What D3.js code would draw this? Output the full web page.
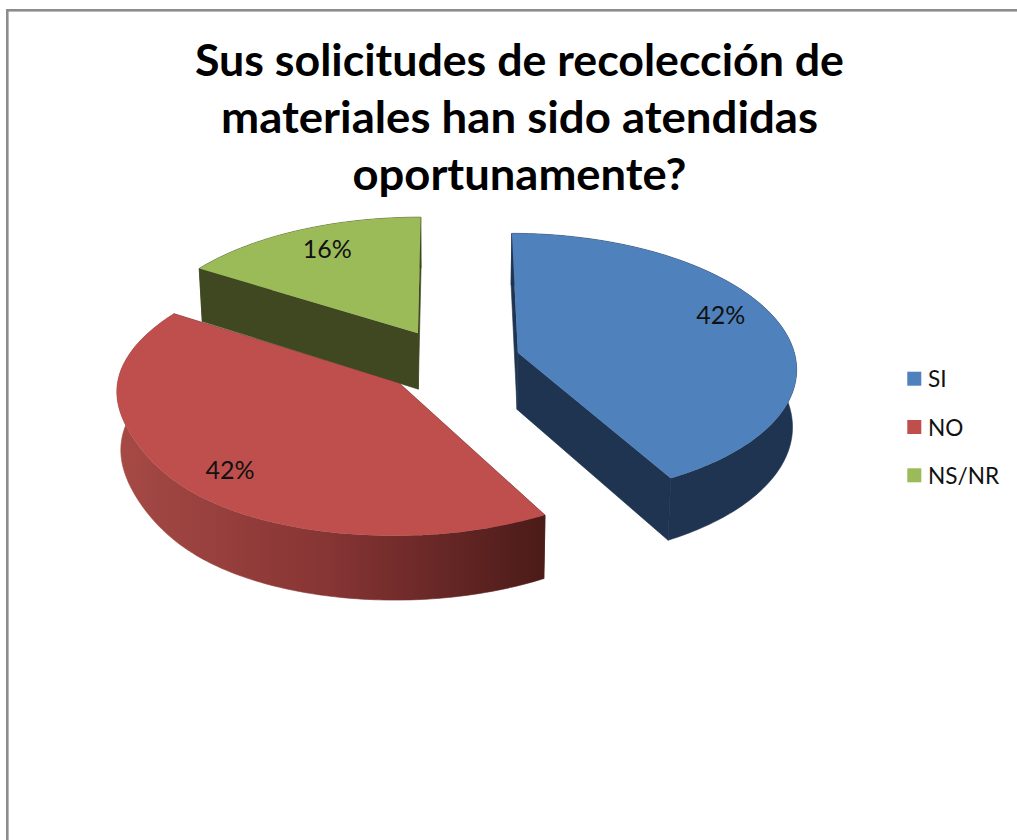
<!DOCTYPE html>
<html><head><meta charset="utf-8">
<script src="https://cdn.jsdelivr.net/npm/d3@7"></script>
<style>html,body{margin:0;padding:0;background:#fff;overflow:hidden}svg{display:block}text{font-family:Lato,"Open Sans",sans-serif;fill:#111}</style>
</head><body><svg id="c" width="1017" height="840"></svg>
<script>
const categories = ["SI","NO","NS/NR"];
const values = [42,42,16];
const titleLines = ["Sus solicitudes de recolección de","materiales han sido atendidas","oportunamente?"];
const titleWidths = [649,597,334];
const topColors = ["#4f81bd","#be4f4c","#9bbb59"];
const wallColors = ["#1f3450","url(#redWall)","#3f4820"];
const labelNudges = [[2,-14],[-1,10],[3,-5]];
const explodes = [70.5,68,68];
const rimTrims = [[.008,70,45],[.028,245,23],[0,0,1]];

const svg = d3.select("#c");
const R=280, cx=450, cy=361, k=.474, p=.00035, depth=57;

const defs = svg.append("defs");
const g = defs.append("linearGradient").attr("id","redWall").attr("gradientUnits","userSpaceOnUse")
  .attr("x1",116).attr("x2",546).attr("y1",0).attr("y2",0);
[[0,"#a64a45"],[.5,"#863434"],[1,"#4a1b18"]].forEach(s=>g.append("stop").attr("offset",s[0]).attr("stop-color",s[1]));

svg.append("rect").attr("x",7.3).attr("y",10.3).attr("width",1200).attr("height",1000)
  .attr("fill","#fff").attr("stroke","#8c8c8c").attr("stroke-width",2.6);

const arcs = d3.pie().sort(null).value(d=>d)(values);
function project(X,Y,z){
  const s=1/(1-p*Y);
  return [cx+X*s*(1-.012*z), cy+k*Y*s+z*depth*s];
}
function disk(a,th,r){
  const mid=(a.startAngle+a.endAngle)/2, e=explodes[a.index];
  const deg=th*180/Math.PI, t=rimTrims[a.index];
  const trim=1-t[0]*Math.exp(-Math.pow((deg-t[1])/t[2],2));
  const rr=R*r*trim;
  return [e*Math.sin(mid)+rr*Math.sin(th), -e*Math.cos(mid)-rr*Math.cos(th)];
}
const line=d3.line();
function rim(a,z,reverse){
  const n=Math.ceil((a.endAngle-a.startAngle)*180/Math.PI);
  const pts=d3.range(n+1).map(i=>{
    const th=a.startAngle+(a.endAngle-a.startAngle)*i/n;
    const d=disk(a,th,1); return project(d[0],d[1],z);
  });
  return reverse?pts.reverse():pts;
}
function pt(a,th,r,z){const d=disk(a,th,r);return project(d[0],d[1],z);}

[2,1,0].forEach(i=>{
  const a=arcs[i], layer=svg.append("g");
  const fill=wallColors[i];
  const flat=i===1?"#6a2826":fill;
  [a.startAngle,a.endAngle].forEach(th=>{
    layer.append("path").attr("d",line([pt(a,th,0,0),pt(a,th,1,0),pt(a,th,1,1),pt(a,th,0,1)])+"Z")
      .attr("fill",flat).attr("stroke",flat).attr("stroke-width",.6);
  });
  layer.append("path").attr("d",line(rim(a,0,false).concat(rim(a,1,true)))+"Z").attr("fill",fill)
    .attr("stroke",fill).attr("stroke-width",.6);
  layer.append("path").attr("d",line([pt(a,a.startAngle,0,0)].concat(rim(a,0,false)))+"Z")
    .attr("fill",topColors[i]);
});

const total=d3.sum(values);
arcs.forEach((a,i)=>{
  const m=(a.startAngle+a.endAngle)/2, q=pt(a,m,.77,0);
  svg.append("text").attr("x",q[0]+labelNudges[i][0]).attr("y",q[1]+labelNudges[i][1])
    .attr("text-anchor","middle").attr("dominant-baseline","central").attr("font-size",25)
    .text(Math.round(a.data/total*100)+"%");
});

const titleY=d3.scalePoint().domain(d3.range(titleLines.length)).range([76,190]);
titleLines.forEach((t,i)=>{
  svg.append("text").attr("x",519.5).attr("y",titleY(i)).attr("text-anchor","middle")
    .attr("font-size",44.5).attr("font-weight",700).attr("textLength",titleWidths[i])
    .attr("lengthAdjust","spacingAndGlyphs").style("fill","#000").text(t);
});

const legendY=d3.scalePoint().domain(categories).range([378.7,475.3]);
categories.forEach((c,i)=>{
  svg.append("rect").attr("x",907.3).attr("y",legendY(c)-7).attr("width",14).attr("height",14).attr("fill",topColors[i]);
  svg.append("text").attr("x",928).attr("y",legendY(c)).attr("dominant-baseline","central").attr("font-size",22.6).text(c);
});
</script></body></html>
